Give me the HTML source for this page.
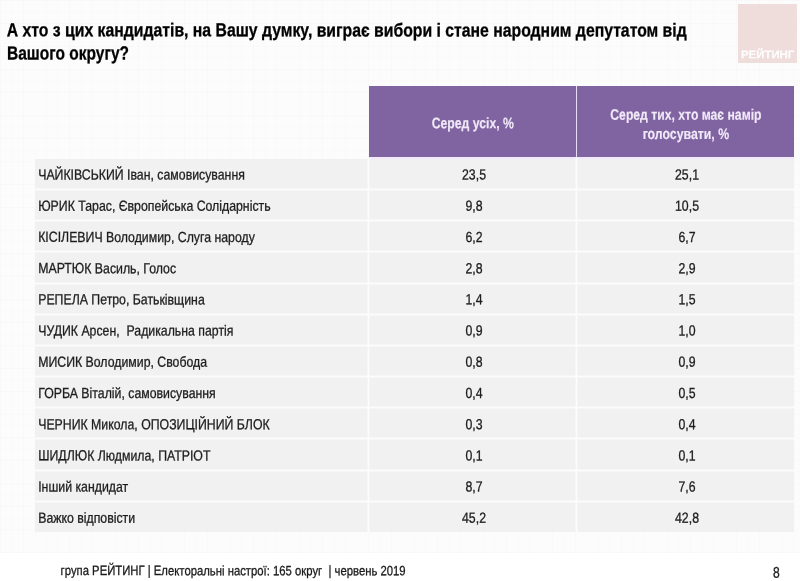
<!DOCTYPE html>
<html><head><meta charset="utf-8"><title>slide</title>
<style>
html,body{margin:0;padding:0}
body{width:800px;height:581px;position:relative;overflow:hidden;background:#fff;font-family:'Liberation Sans',sans-serif}
#bg{position:absolute;left:0;top:0;width:800px;height:552.8px;background-color:#fcfcfc;
 background-image:linear-gradient(to right,rgba(0,0,0,0.012) 1px,transparent 1px),linear-gradient(to bottom,rgba(0,0,0,0.012) 1px,transparent 1px);
 background-size:11.5px 11.5px;}
#tx{position:absolute;left:0;top:0;width:800px;height:581px;will-change:transform}
span{position:absolute;left:0;top:0;white-space:pre;transform-origin:0 0;display:block}
#tb{position:absolute;left:35.2px;width:759.1px;background:#f1f1f1}
.h{position:absolute;left:35.2px;width:759.1px;height:3px;background:linear-gradient(to bottom,rgba(252,252,252,0),rgba(252,252,252,1) 38%,rgba(252,252,252,1) 62%,rgba(252,252,252,0))}
.v{position:absolute;top:158px;height:374px;width:3px;background:linear-gradient(to right,rgba(252,252,252,0),rgba(252,252,252,1) 38%,rgba(252,252,252,1) 62%,rgba(252,252,252,0))}
#hd{position:absolute;left:369.3px;top:86.4px;width:425px;height:70.9px;background:#8064a2}
#hv{position:absolute;left:575.8px;top:86.4px;width:1.4px;height:70.9px;background:#e9ddf5}
#hb{position:absolute;left:369.3px;top:157px;width:425px;height:3px;background:linear-gradient(to bottom,#f2e9fb 0,#f2e9fb 60%,rgba(242,233,251,0))}
#logo{position:absolute;left:737.5px;top:3.8px;width:59.2px;height:59px;background:#efdddc}
</style></head><body>
<div id="bg"></div>
<div id="logo"></div>
<div id="hd"></div><div id="hv"></div>
<div id="tb" style="top:158.70px;height:372.90px"></div><div class="h" style="top:188.05px"></div><div class="h" style="top:219.22px"></div><div class="h" style="top:250.39px"></div><div class="h" style="top:281.56px"></div><div class="h" style="top:312.73px"></div><div class="h" style="top:343.90px"></div><div class="h" style="top:375.07px"></div><div class="h" style="top:406.24px"></div><div class="h" style="top:437.41px"></div><div class="h" style="top:468.58px"></div><div class="h" style="top:499.75px"></div>
<div id="hb"></div>
<div class="v" style="left:367px"></div>
<div class="v" style="left:575px"></div>
<div id="tx"><span style="font-size:18.8px;line-height:24.44px;font-weight:700;color:#000;-webkit-text-stroke:0.3px #000;transform:translate(6.80px,18.19px) scaleX(0.8396) rotate(0.03deg)">А хто з цих кандидатів, на Вашу думку, виграє вибори і стане народним депутатом від</span><span style="font-size:19.0px;line-height:24.7px;font-weight:700;color:#000;-webkit-text-stroke:0.3px #000;transform:translate(7.00px,41.53px) scaleX(0.8166) rotate(0.03deg)">Вашого округу?</span><span style="font-size:11px;line-height:14.3px;font-weight:700;color:rgba(255,255,255,0.92);-webkit-text-stroke:0.15px rgba(255,255,255,0.92);transform:translate(741.00px,47.22px) scaleX(1.0372) rotate(0.03deg)">РЕЙТИНГ</span><span style="font-size:15.2px;line-height:19.76px;font-weight:700;color:#f1e9f8;-webkit-text-stroke:0.15px #f1e9f8;transform:translate(431.65px,113.13px) scaleX(0.8059) rotate(0.03deg)">Серед усіх, %</span><span style="font-size:15.2px;line-height:19.76px;font-weight:700;color:#f1e9f8;-webkit-text-stroke:0.15px #f1e9f8;transform:translate(610.30px,104.71px) scaleX(0.8031) rotate(0.03deg)">Серед тих, хто має намір</span><span style="font-size:15.2px;line-height:19.76px;font-weight:700;color:#f1e9f8;-webkit-text-stroke:0.15px #f1e9f8;transform:translate(642.65px,123.93px) scaleX(0.8103) rotate(0.03deg)">голосувати, %</span><span style="font-size:14.6px;line-height:18.98px;font-weight:400;color:#1c1c1c;-webkit-text-stroke:0.3px #1c1c1c;transform:translate(38.20px,165.45px) scaleX(0.8430) rotate(0.03deg)">ЧАЙКІВСЬКИЙ Іван, самовисування</span><span style="font-size:14.6px;line-height:18.98px;font-weight:400;color:#1c1c1c;-webkit-text-stroke:0.3px #1c1c1c;transform:translate(462.03px,165.49px) scaleX(0.8430) rotate(0.03deg)">23,5</span><span style="font-size:14.6px;line-height:18.98px;font-weight:400;color:#1c1c1c;-webkit-text-stroke:0.3px #1c1c1c;transform:translate(675.03px,165.49px) scaleX(0.8430) rotate(0.03deg)">25,1</span><span style="font-size:14.6px;line-height:18.98px;font-weight:400;color:#1c1c1c;-webkit-text-stroke:0.3px #1c1c1c;transform:translate(38.20px,196.65px) scaleX(0.8430) rotate(0.03deg)">ЮРИК Тарас, Європейська Солідарність</span><span style="font-size:14.6px;line-height:18.98px;font-weight:400;color:#1c1c1c;-webkit-text-stroke:0.3px #1c1c1c;transform:translate(465.44px,196.71px) scaleX(0.8430) rotate(0.03deg)">9,8</span><span style="font-size:14.6px;line-height:18.98px;font-weight:400;color:#1c1c1c;-webkit-text-stroke:0.3px #1c1c1c;transform:translate(675.03px,196.70px) scaleX(0.8430) rotate(0.03deg)">10,5</span><span style="font-size:14.6px;line-height:18.98px;font-weight:400;color:#1c1c1c;-webkit-text-stroke:0.3px #1c1c1c;transform:translate(38.20px,227.86px) scaleX(0.8430) rotate(0.03deg)">КІСІЛЕВИЧ Володимир, Слуга народу</span><span style="font-size:14.6px;line-height:18.98px;font-weight:400;color:#1c1c1c;-webkit-text-stroke:0.3px #1c1c1c;transform:translate(465.44px,227.92px) scaleX(0.8430) rotate(0.03deg)">6,2</span><span style="font-size:14.6px;line-height:18.98px;font-weight:400;color:#1c1c1c;-webkit-text-stroke:0.3px #1c1c1c;transform:translate(678.44px,227.92px) scaleX(0.8430) rotate(0.03deg)">6,7</span><span style="font-size:14.6px;line-height:18.98px;font-weight:400;color:#1c1c1c;-webkit-text-stroke:0.3px #1c1c1c;transform:translate(38.20px,259.10px) scaleX(0.8430) rotate(0.03deg)">МАРТЮК Василь, Голос</span><span style="font-size:14.6px;line-height:18.98px;font-weight:400;color:#1c1c1c;-webkit-text-stroke:0.3px #1c1c1c;transform:translate(465.44px,259.13px) scaleX(0.8430) rotate(0.03deg)">2,8</span><span style="font-size:14.6px;line-height:18.98px;font-weight:400;color:#1c1c1c;-webkit-text-stroke:0.3px #1c1c1c;transform:translate(678.44px,259.13px) scaleX(0.8430) rotate(0.03deg)">2,9</span><span style="font-size:14.6px;line-height:18.98px;font-weight:400;color:#1c1c1c;-webkit-text-stroke:0.3px #1c1c1c;transform:translate(38.20px,290.30px) scaleX(0.8430) rotate(0.03deg)">РЕПЕЛА Петро, Батьківщина</span><span style="font-size:14.6px;line-height:18.98px;font-weight:400;color:#1c1c1c;-webkit-text-stroke:0.3px #1c1c1c;transform:translate(465.44px,290.34px) scaleX(0.8430) rotate(0.03deg)">1,4</span><span style="font-size:14.6px;line-height:18.98px;font-weight:400;color:#1c1c1c;-webkit-text-stroke:0.3px #1c1c1c;transform:translate(678.44px,290.34px) scaleX(0.8430) rotate(0.03deg)">1,5</span><span style="font-size:14.6px;line-height:18.98px;font-weight:400;color:#1c1c1c;-webkit-text-stroke:0.3px #1c1c1c;transform:translate(38.20px,321.50px) scaleX(0.8430) rotate(0.03deg)">ЧУДИК Арсен,  Радикальна партія</span><span style="font-size:14.6px;line-height:18.98px;font-weight:400;color:#1c1c1c;-webkit-text-stroke:0.3px #1c1c1c;transform:translate(465.44px,321.55px) scaleX(0.8430) rotate(0.03deg)">0,9</span><span style="font-size:14.6px;line-height:18.98px;font-weight:400;color:#1c1c1c;-webkit-text-stroke:0.3px #1c1c1c;transform:translate(678.44px,321.55px) scaleX(0.8430) rotate(0.03deg)">1,0</span><span style="font-size:14.6px;line-height:18.98px;font-weight:400;color:#1c1c1c;-webkit-text-stroke:0.3px #1c1c1c;transform:translate(38.20px,352.72px) scaleX(0.8430) rotate(0.03deg)">МИСИК Володимир, Свобода</span><span style="font-size:14.6px;line-height:18.98px;font-weight:400;color:#1c1c1c;-webkit-text-stroke:0.3px #1c1c1c;transform:translate(465.44px,352.76px) scaleX(0.8430) rotate(0.03deg)">0,8</span><span style="font-size:14.6px;line-height:18.98px;font-weight:400;color:#1c1c1c;-webkit-text-stroke:0.3px #1c1c1c;transform:translate(678.44px,352.76px) scaleX(0.8430) rotate(0.03deg)">0,9</span><span style="font-size:14.6px;line-height:18.98px;font-weight:400;color:#1c1c1c;-webkit-text-stroke:0.3px #1c1c1c;transform:translate(38.20px,383.92px) scaleX(0.8430) rotate(0.03deg)">ГОРБА Віталій, самовисування</span><span style="font-size:14.6px;line-height:18.98px;font-weight:400;color:#1c1c1c;-webkit-text-stroke:0.3px #1c1c1c;transform:translate(465.44px,383.97px) scaleX(0.8430) rotate(0.03deg)">0,4</span><span style="font-size:14.6px;line-height:18.98px;font-weight:400;color:#1c1c1c;-webkit-text-stroke:0.3px #1c1c1c;transform:translate(678.44px,383.97px) scaleX(0.8430) rotate(0.03deg)">0,5</span><span style="font-size:14.6px;line-height:18.98px;font-weight:400;color:#1c1c1c;-webkit-text-stroke:0.3px #1c1c1c;transform:translate(38.20px,415.12px) scaleX(0.8430) rotate(0.03deg)">ЧЕРНИК Микола, ОПОЗИЦІЙНИЙ БЛОК</span><span style="font-size:14.6px;line-height:18.98px;font-weight:400;color:#1c1c1c;-webkit-text-stroke:0.3px #1c1c1c;transform:translate(465.44px,415.18px) scaleX(0.8430) rotate(0.03deg)">0,3</span><span style="font-size:14.6px;line-height:18.98px;font-weight:400;color:#1c1c1c;-webkit-text-stroke:0.3px #1c1c1c;transform:translate(678.44px,415.18px) scaleX(0.8430) rotate(0.03deg)">0,4</span><span style="font-size:14.6px;line-height:18.98px;font-weight:400;color:#1c1c1c;-webkit-text-stroke:0.3px #1c1c1c;transform:translate(38.20px,446.35px) scaleX(0.8430) rotate(0.03deg)">ШИДЛЮК Людмила, ПАТРІОТ</span><span style="font-size:14.6px;line-height:18.98px;font-weight:400;color:#1c1c1c;-webkit-text-stroke:0.3px #1c1c1c;transform:translate(465.44px,446.39px) scaleX(0.8430) rotate(0.03deg)">0,1</span><span style="font-size:14.6px;line-height:18.98px;font-weight:400;color:#1c1c1c;-webkit-text-stroke:0.3px #1c1c1c;transform:translate(678.44px,446.39px) scaleX(0.8430) rotate(0.03deg)">0,1</span><span style="font-size:14.6px;line-height:18.98px;font-weight:400;color:#1c1c1c;-webkit-text-stroke:0.3px #1c1c1c;transform:translate(38.20px,477.58px) scaleX(0.8430) rotate(0.03deg)">Інший кандидат</span><span style="font-size:14.6px;line-height:18.98px;font-weight:400;color:#1c1c1c;-webkit-text-stroke:0.3px #1c1c1c;transform:translate(465.44px,477.60px) scaleX(0.8430) rotate(0.03deg)">8,7</span><span style="font-size:14.6px;line-height:18.98px;font-weight:400;color:#1c1c1c;-webkit-text-stroke:0.3px #1c1c1c;transform:translate(678.44px,477.60px) scaleX(0.8430) rotate(0.03deg)">7,6</span><span style="font-size:14.6px;line-height:18.98px;font-weight:400;color:#1c1c1c;-webkit-text-stroke:0.3px #1c1c1c;transform:translate(38.20px,508.79px) scaleX(0.8430) rotate(0.03deg)">Важко відповісти</span><span style="font-size:14.6px;line-height:18.98px;font-weight:400;color:#1c1c1c;-webkit-text-stroke:0.3px #1c1c1c;transform:translate(462.03px,508.80px) scaleX(0.8430) rotate(0.03deg)">45,2</span><span style="font-size:14.6px;line-height:18.98px;font-weight:400;color:#1c1c1c;-webkit-text-stroke:0.3px #1c1c1c;transform:translate(675.03px,508.80px) scaleX(0.8430) rotate(0.03deg)">42,8</span><span style="font-size:13.5px;line-height:17.55px;font-weight:400;color:#1a1a1a;-webkit-text-stroke:0.3px #1a1a1a;transform:translate(60.60px,562.06px) scaleX(0.8375) rotate(0.03deg)">група РЕЙТИНГ | Електоральні настрої: 165 округ  | червень 2019</span><span style="font-size:15.5px;line-height:20.15px;font-weight:400;color:#1a1a1a;-webkit-text-stroke:0.3px #1a1a1a;transform:translate(773.04px,562.75px) scaleX(0.7800) rotate(0.03deg)">8</span></div>
</body></html>
